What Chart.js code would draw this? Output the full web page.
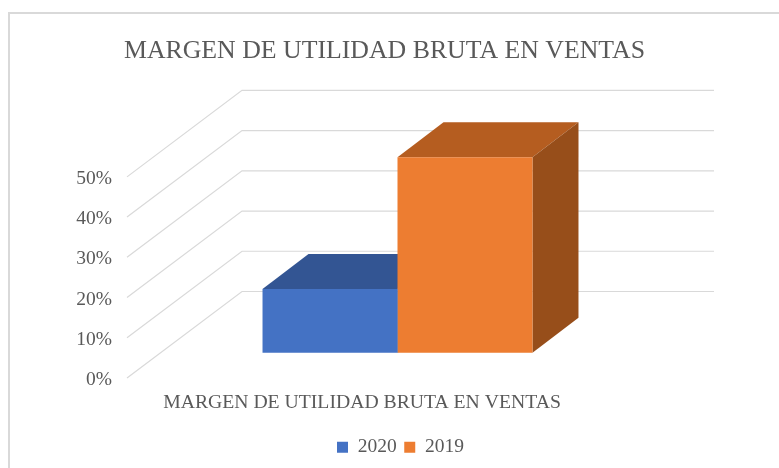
<!DOCTYPE html>
<html>
<head>
<meta charset="utf-8">
<script src="https://cdn.jsdelivr.net/npm/chart.js@4"></script>
<style>
    html, body { margin: 0; background: #fff; }
    #frame { position: absolute; left: 8px; top: 12px; width: 779px; height: 468px; border: 2px solid #d9d9d9; }
    #wrap { position: absolute; left: 0; top: 0; width: 779px; height: 468px; overflow: hidden; }
    canvas { position: absolute; left: 0; top: 0; }
</style>
</head>
<body>
<div id="wrap">
    <div id="frame"></div>
    <canvas id="chart" width="779" height="468"></canvas>
</div>
<script>
const chartTitle = 'MARGEN DE UTILIDAD BRUTA EN VENTAS'
const categories = ['MARGEN DE UTILIDAD BRUTA EN VENTAS']
const seriesNames = ['2020', '2019']
const values2020 = [15.8]
const values2019 = [48.6]
const tickValues = [0, 10, 20, 30, 40, 50]

const textColor = '#595959'
const gridColor = '#d9d9d9'
const serif = "'Liberation Serif', 'Times New Roman', serif"

// how far back the walls and the bars go
const wallDepth = { x: 115, y: 86.5 }
const barDepth = { x: 46, y: 35 }
const faceColors = [
    { top: '#335593', side: '#264478' },
    { top: '#b55d20', side: '#974e1a' },
]

const walls3d = {
    id: 'walls3d',
    afterLayout(chart) {
        // legend sits right of the title in the original
        chart.legend.left += 16
        chart.legend.right += 16
    },
    beforeDatasetsDraw(chart) {
        const ctx = chart.ctx
        const y = chart.scales.y
        const left = chart.chartArea.left
        const wallEnd = chart.chartArea.right + barDepth.x

        ctx.save()
        ctx.strokeStyle = gridColor
        ctx.lineWidth = 1.2
        y.ticks.forEach(t => {
            const py = y.getPixelForValue(t.value)
            ctx.beginPath()
            ctx.moveTo(left, py)
            ctx.lineTo(left + wallDepth.x, py - wallDepth.y)
            ctx.lineTo(wallEnd, py - wallDepth.y)
            ctx.stroke()
        })

        // top and side faces, the front faces are the real bars
        chart.data.datasets.forEach((ds, i) => {
            const bar = chart.getDatasetMeta(i).data[0]
            const l = bar.x - bar.width / 2
            const r = bar.x + bar.width / 2
            ctx.fillStyle = faceColors[i].top
            ctx.beginPath()
            ctx.moveTo(l, bar.y)
            ctx.lineTo(l + barDepth.x, bar.y - barDepth.y)
            ctx.lineTo(r + barDepth.x, bar.y - barDepth.y)
            ctx.lineTo(r, bar.y)
            ctx.closePath()
            ctx.fill()
            ctx.fillStyle = faceColors[i].side
            ctx.beginPath()
            ctx.moveTo(r, bar.y)
            ctx.lineTo(r + barDepth.x, bar.y - barDepth.y)
            ctx.lineTo(r + barDepth.x, bar.base - barDepth.y)
            ctx.lineTo(r, bar.base)
            ctx.closePath()
            ctx.fill()
        })
        ctx.restore()
    }
}

const ctx = document.getElementById('chart').getContext('2d')
const chart = new Chart(ctx, {
    type: 'bar',
    data: {
        labels: categories,
        datasets: [{
            label: seriesNames[0],
            data: values2020,
            backgroundColor: '#4472c4',
            yAxisID: 'bars',
        }, {
            label: seriesNames[1],
            data: values2019,
            backgroundColor: '#ed7d31',
            yAxisID: 'bars',
        }]
    },
    plugins: [walls3d],
    options: {
        responsive: false,
        animation: false,
        layout: { padding: { left: 0, right: 10, top: 35.5, bottom: 1 } },
        datasets: { bar: { barPercentage: 1, categoryPercentage: 0.499 } },
        scales: {
            x: {
                grid: { display: false },
                border: { display: false },
                afterFit(scale) { scale.height = 52 },
                ticks: {
                    color: textColor,
                    labelOffset: -35.5,
                    padding: 5,
                    maxRotation: 0,
                    font: { family: serif, size: 19.7 },
                },
            },
            y: {
                min: 0,
                max: 71.6,
                afterBuildTicks(scale) {
                    scale.ticks = tickValues.map(v => ({ value: v }))
                },
                afterFit(scale) { scale.width = 127 },
                grid: { display: false },
                border: { display: false },
                ticks: {
                    color: textColor,
                    padding: 7,
                    labelOffset: 2,
                    callback: v => v + '%',
                    font: { family: serif, size: 19.5 },
                },
            },
            // same height as y but its zero is further up, where the bars stand
            bars: {
                position: 'right',
                min: -6.3,
                max: 65.3,
                afterFit(scale) { scale.width = 101 },
                grid: { display: false },
                border: { display: false },
                ticks: { display: false },
            },
        },
        plugins: {
            title: {
                display: true,
                text: chartTitle,
                color: textColor,
                padding: { top: 0, bottom: 23.5 },
                font: { family: serif, size: 25.8, weight: 'normal' },
            },
            legend: {
                position: 'bottom',
                labels: {
                    color: textColor,
                    boxWidth: 11,
                    boxHeight: 11,
                    padding: 7.5,
                    font: { family: serif, size: 19.5 },
                },
            },
            tooltip: { enabled: false },
        },
    },
})
</script>
</body>
</html>
